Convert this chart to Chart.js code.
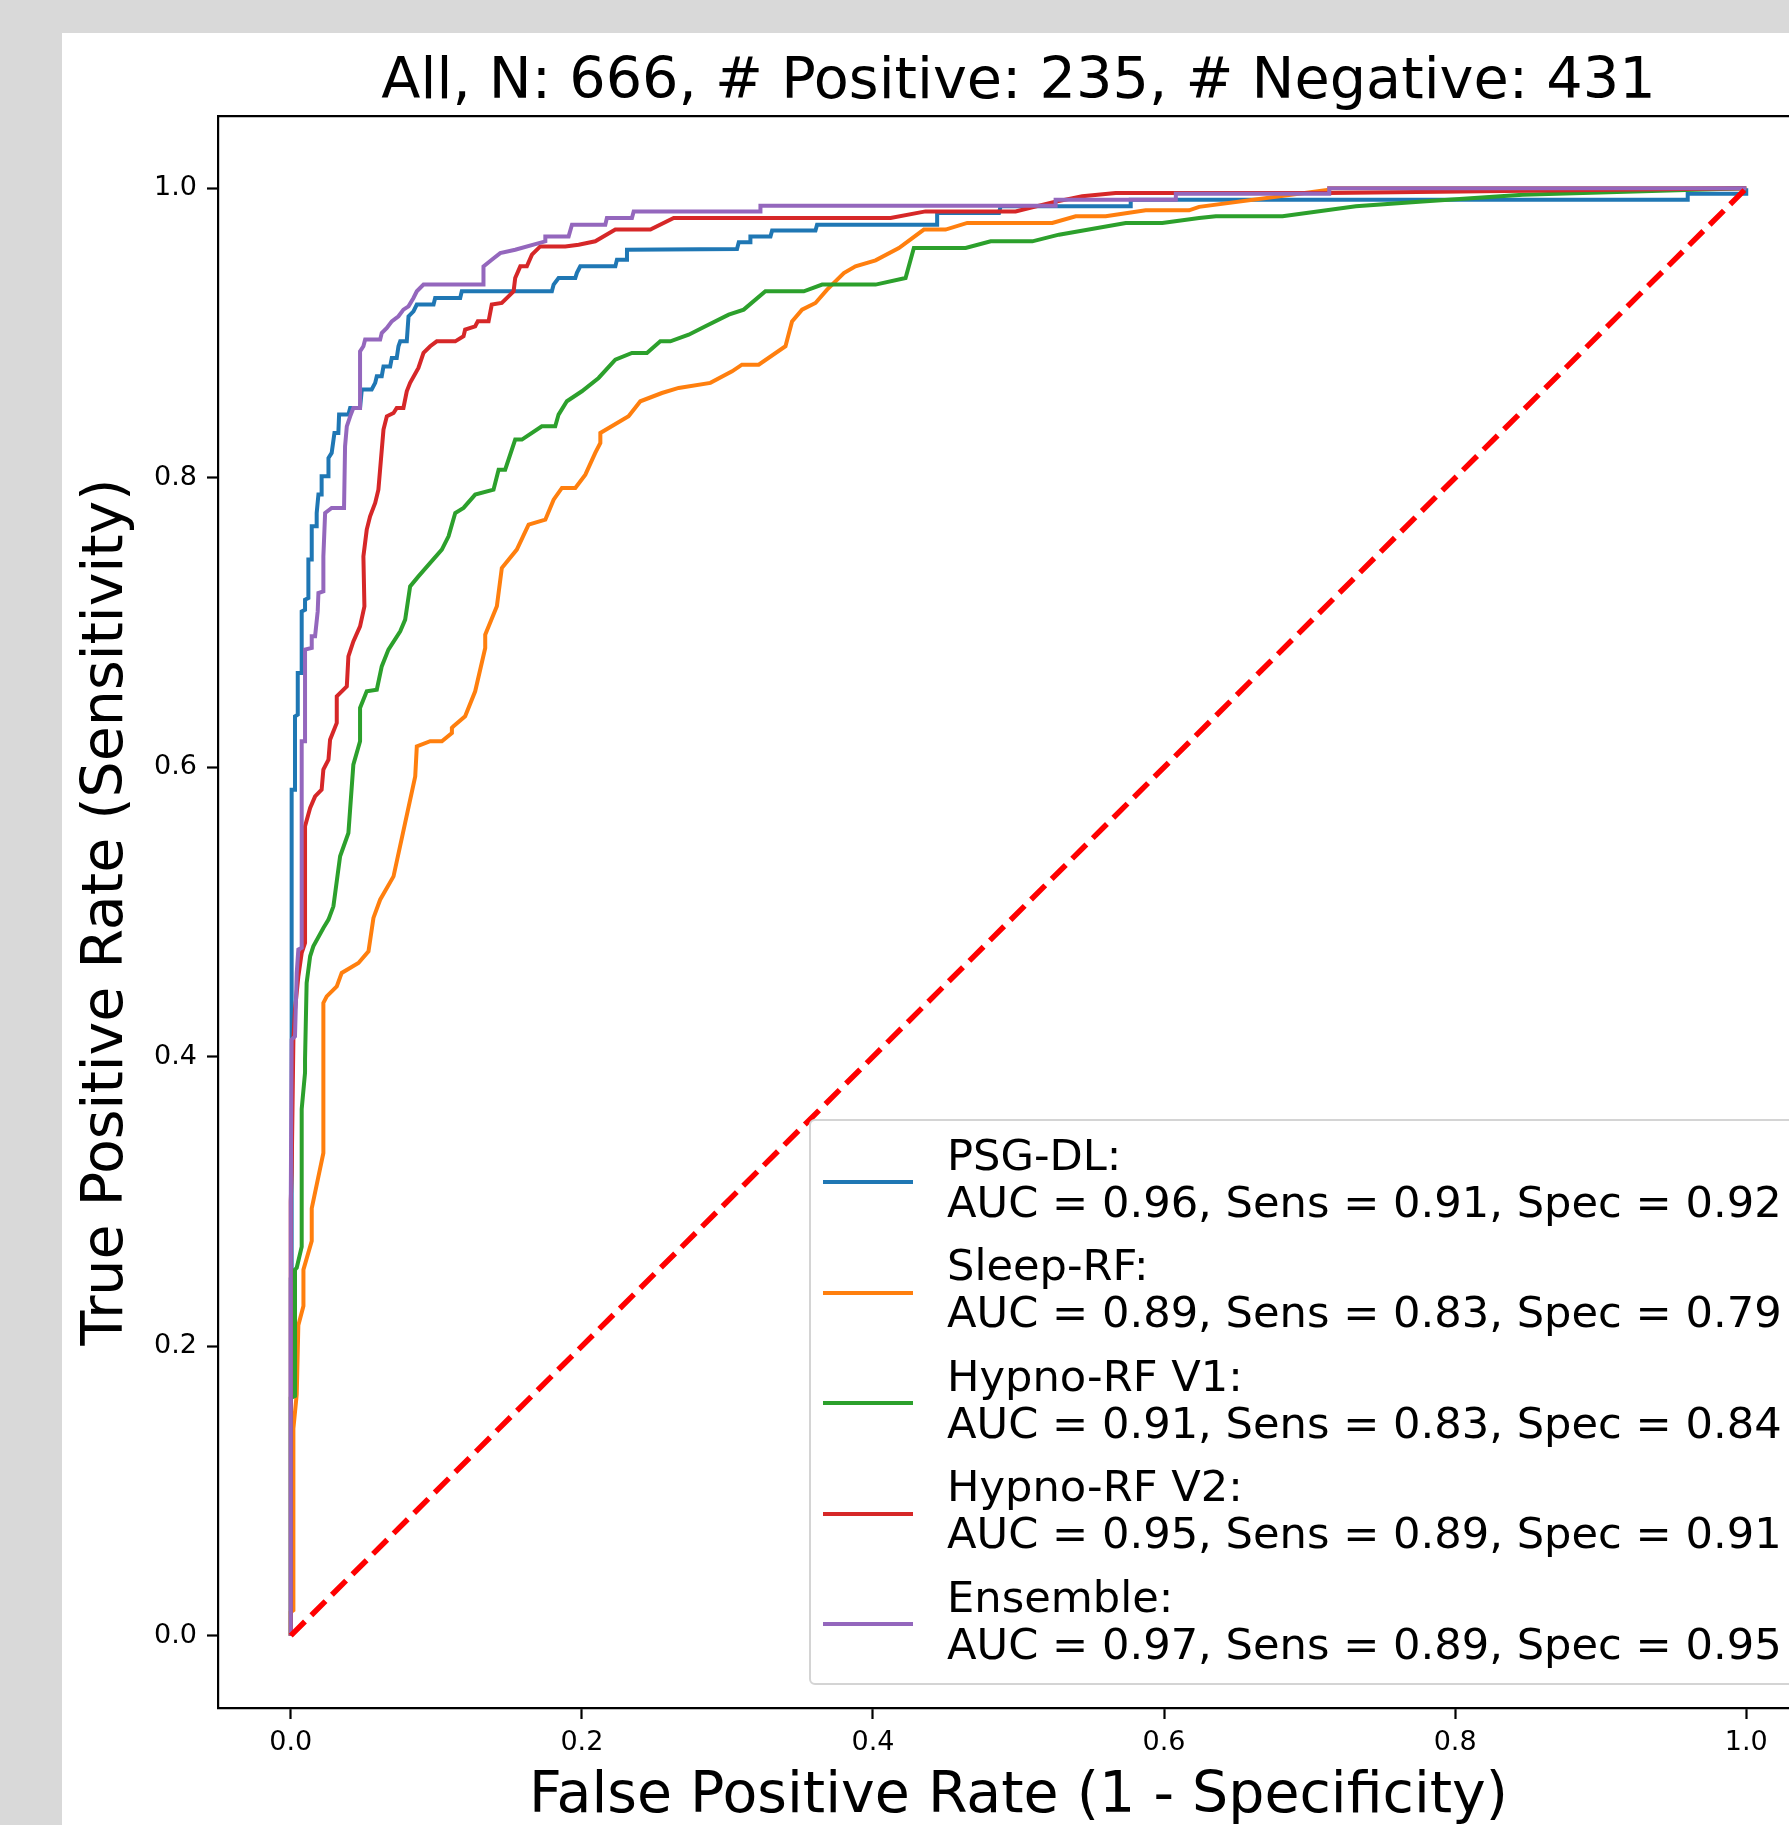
<!DOCTYPE html>
<html>
<head>
<meta charset="utf-8">
<title>ROC curves</title>
<script src="https://cdn.jsdelivr.net/npm/chart.js@4.4.1/dist/chart.umd.min.js"></script>
<style>
  html, body { margin: 0; padding: 0; overflow: hidden; background: #d9d9d9; width: 1789px; height: 1825px; }
  #panel { position: absolute; left: 62px; top: 33px; width: 1900px; height: 1900px; background: #fff; }
  #roc { position: absolute; left: 0; top: 0; }
  #legend {
    position: absolute; left: 747px; top: 1086px; width: 1100px; height: 562px;
    border: 2px solid #d4d4d4; border-radius: 6px; background: rgba(255,255,255,0.8);
    font-family: "DejaVu Sans", sans-serif; font-size: 43.2px; line-height: 46.7px; color: #000;
  }
  .lg-line { position: absolute; left: 12px; width: 90px; height: 4px; }
  .lg-text { position: absolute; left: 136px; white-space: pre; }
</style>
</head>
<body>
<div id="panel">
  <canvas id="roc" width="1838" height="1792"></canvas>
  <div id="legend"></div>
</div>
<script>
// ---- data ----
const nTotal = 666, nPos = 235, nNeg = 431;

const seriesNames  = ["PSG-DL", "Sleep-RF", "Hypno-RF V1", "Hypno-RF V2", "Ensemble"];
const seriesColors = ["#1f77b4", "#ff7f0e", "#2ca02c", "#d62728", "#9467bd"];
const aucVals  = [0.96, 0.89, 0.91, 0.95, 0.97];
const sensVals = [0.91, 0.83, 0.83, 0.89, 0.89];
const specVals = [0.92, 0.79, 0.84, 0.91, 0.95];

const tickVals = [0, 0.2, 0.4, 0.6, 0.8, 1.0];

// PSG-DL
const psgFpr = [0, 0, 0.0006, 0.0006, 0.0029, 0.0029, 0.0048, 0.0048, 0.0075, 0.0075, 0.0098, 0.0098, 0.0121, 0.0121,
  0.0144, 0.0144, 0.0178, 0.0178, 0.0190, 0.0212, 0.0212, 0.0259, 0.0259, 0.0281, 0.0300, 0.0327, 0.0332, 0.0396,
  0.0408, 0.0476, 0.0488, 0.0556, 0.0580, 0.0591, 0.0625, 0.0637, 0.0683, 0.0694, 0.0728, 0.0740, 0.0752, 0.0797,
  0.0809, 0.0843, 0.0866, 0.0981, 0.0992, 0.1164, 0.1175, 0.1794, 0.1806, 0.1840, 0.1955, 0.1966, 0.1989, 0.2230,
  0.2241, 0.2310, 0.2310, 0.3066, 0.3078, 0.3158, 0.3158, 0.3296, 0.3307, 0.3605, 0.3616, 0.4441, 0.4441, 0.4866,
  0.4877, 0.5771, 0.5771, 0.9598, 0.9598, 1.0, 1.0];
const psgTpr = [0, 0.246, 0.246, 0.5845, 0.5845, 0.6352, 0.6364, 0.6652, 0.6652, 0.7077, 0.7089, 0.7158, 0.7170, 0.7435,
  0.7435, 0.7665, 0.7665, 0.7757, 0.7884, 0.7884, 0.8010, 0.8010, 0.8137, 0.8172, 0.8310, 0.8310, 0.8437, 0.8437,
  0.8483, 0.8483, 0.8610, 0.8610, 0.8656, 0.8702, 0.8702, 0.8770, 0.8770, 0.8828, 0.8828, 0.8909, 0.8943, 0.8943,
  0.9116, 0.9150, 0.9197, 0.9197, 0.9243, 0.9243, 0.9289, 0.9289, 0.9335, 0.9381, 0.9381, 0.9416, 0.9461, 0.9461,
  0.9507, 0.9507, 0.9576, 0.9581, 0.9627, 0.9627, 0.9668, 0.9668, 0.9708, 0.9708, 0.9749, 0.9749, 0.9830, 0.9830,
  0.9876, 0.9876, 0.9922, 0.9922, 0.9963, 0.9963, 1.0];

// Sleep-RF
const sleepFpr = [0, 0, 0.0018, 0.0018, 0.0041, 0.0052, 0.0087, 0.0087, 0.0144, 0.0144, 0.0224, 0.0224, 0.0247, 0.0316,
  0.0350, 0.0465, 0.0534, 0.0568, 0.0614, 0.0706, 0.0855, 0.0866, 0.0958, 0.1038, 0.1107, 0.1107, 0.1118, 0.1198,
  0.1267, 0.1336, 0.1336, 0.1416, 0.1450, 0.1553, 0.1634, 0.1749, 0.1806, 0.1863, 0.1955, 0.2024, 0.2092, 0.2127,
  0.2127, 0.2321, 0.2402, 0.2550, 0.2665, 0.2883, 0.3032, 0.3100, 0.3215, 0.3399, 0.3444, 0.3513, 0.3605, 0.3685,
  0.3800, 0.3880, 0.4018, 0.4178, 0.4350, 0.4499, 0.4648, 0.5232, 0.5393, 0.5599, 0.5874, 0.6172, 0.6241, 0.7135,
  0.7135, 1.0];
const sleepTpr = [0, 0.0162, 0.0175, 0.1431, 0.1669, 0.2145, 0.2277, 0.2529, 0.2727, 0.2952, 0.3335, 0.4372, 0.4417, 0.4486,
  0.4579, 0.4648, 0.4728, 0.4959, 0.5085, 0.5246, 0.5937, 0.6145, 0.6180, 0.6180, 0.6237, 0.6272, 0.6283, 0.6352,
  0.6525, 0.6824, 0.6916, 0.7112, 0.7377, 0.7504, 0.7676, 0.7711, 0.7849, 0.7930, 0.7930, 0.8022, 0.8172, 0.8241,
  0.8310, 0.8425, 0.8529, 0.8586, 0.8621, 0.8656, 0.8736, 0.8782, 0.8782, 0.8909, 0.9081, 0.9162, 0.9208, 0.9300,
  0.9415, 0.9461, 0.9503, 0.9588, 0.9715, 0.9715, 0.9761, 0.9761, 0.9807, 0.9807, 0.9848, 0.9848, 0.9872, 0.9990,
  1.0, 1.0];

// Hypno-RF V1
const hv1Fpr = [0, 0, 0.0029, 0.0029, 0.0041, 0.0075, 0.0075, 0.0098, 0.0098, 0.0109, 0.0133, 0.0155, 0.0224, 0.0259,
  0.0293, 0.0339, 0.0396, 0.0430, 0.0476, 0.0476, 0.0522, 0.0591, 0.0625, 0.0671, 0.0752, 0.0786, 0.0820, 0.0877,
  0.0958, 0.1038, 0.1084, 0.1130, 0.1187, 0.1267, 0.1393, 0.1428, 0.1473, 0.1542, 0.1588, 0.1725, 0.1817, 0.1840,
  0.1897, 0.2000, 0.2115, 0.2230, 0.2344, 0.2447, 0.2539, 0.2608, 0.2734, 0.2849, 0.3009, 0.3112, 0.3261, 0.3525,
  0.3651, 0.4018, 0.4224, 0.4281, 0.4637, 0.4809, 0.5095, 0.5278, 0.5737, 0.5988, 0.6241, 0.6356, 0.6814, 0.7318,
  0.7776, 0.8464, 1.0];
const hv1Tpr = [0, 0.1642, 0.1656, 0.2529, 0.2542, 0.2687, 0.3639, 0.3890, 0.3980, 0.4510, 0.4694, 0.4763, 0.4890, 0.4947,
  0.5039, 0.5385, 0.5546, 0.6018, 0.6180, 0.6410, 0.6525, 0.6536, 0.6697, 0.6813, 0.6939, 0.7020, 0.7250, 0.7319,
  0.7412, 0.7504, 0.7596, 0.7757, 0.7792, 0.7884, 0.7918, 0.8056, 0.8056, 0.8264, 0.8264, 0.8356, 0.8356, 0.8437,
  0.8529, 0.8598, 0.8690, 0.8816, 0.8863, 0.8863, 0.8943, 0.8943, 0.8989, 0.9047, 0.9127, 0.9162, 0.9289, 0.9289,
  0.9335, 0.9335, 0.9381, 0.9588, 0.9588, 0.9634, 0.9634, 0.9680, 0.9761, 0.9761, 0.9795, 0.9807, 0.9807, 0.9876,
  0.9910, 0.9956, 1.0];

// Hypno-RF V2
const hv2Fpr = [0, 0, 0.0006, 0.0018, 0.0029, 0.0052, 0.0075, 0.0098, 0.0098, 0.0133, 0.0167, 0.0212, 0.0224, 0.0259,
  0.0270, 0.0316, 0.0316, 0.0385, 0.0396, 0.0430, 0.0476, 0.0506, 0.0499, 0.0522, 0.0545, 0.0580, 0.0602, 0.0637,
  0.0660, 0.0706, 0.0728, 0.0774, 0.0797, 0.0820, 0.0877, 0.0912, 0.0958, 0.1003, 0.1130, 0.1187, 0.1198, 0.1267,
  0.1285, 0.1359, 0.1381, 0.1450, 0.1496, 0.1531, 0.1542, 0.1577, 0.1622, 0.1657, 0.1714, 0.1886, 0.1978, 0.2092,
  0.2230, 0.2471, 0.2631, 0.4121, 0.4361, 0.4980, 0.5232, 0.5438, 0.5668, 0.7135, 1.0];
const hv2Tpr = [0, 0.30, 0.32, 0.4118, 0.4325, 0.4555, 0.4717, 0.4786, 0.5592, 0.5719, 0.5799, 0.5845, 0.5984, 0.6053,
  0.6191, 0.6306, 0.6490, 0.6559, 0.6767, 0.6870, 0.6974, 0.7112, 0.7457, 0.7642, 0.7734, 0.7826, 0.7918, 0.8333,
  0.8425, 0.8448, 0.8483, 0.8483, 0.8598, 0.8656, 0.8759, 0.8863, 0.8909, 0.8943, 0.8943, 0.8978, 0.9024, 0.9047,
  0.9081, 0.9081, 0.9197, 0.9208, 0.9254, 0.9289, 0.9381, 0.9461, 0.9461, 0.9542, 0.9599, 0.9599, 0.9611, 0.9634,
  0.9715, 0.9715, 0.9795, 0.9795, 0.9841, 0.9841, 0.9903, 0.9945, 0.9968, 0.9968, 1.0];

// Ensemble
const ensFpr = [0, 0, 0.0006, 0.0029, 0.0041, 0.0052, 0.0075, 0.0075, 0.0098, 0.0098, 0.0144, 0.0144, 0.0167, 0.0185,
  0.0190, 0.0224, 0.0224, 0.0236, 0.0281, 0.0366, 0.0373, 0.0385, 0.0408, 0.0430, 0.0476, 0.0476, 0.0499, 0.0511,
  0.0614, 0.0625, 0.0660, 0.0694, 0.0740, 0.0774, 0.0809, 0.0843, 0.0866, 0.0912, 0.1324, 0.1324, 0.1381, 0.1439,
  0.1542, 0.1749, 0.1749, 0.1909, 0.1932, 0.2161, 0.2172, 0.2344, 0.2356, 0.3227, 0.3227, 0.5255, 0.5255, 0.6081,
  0.6081, 0.7135, 0.7135, 1.0];
const ensTpr = [0, 0.30, 0.4118, 0.4141, 0.4579, 0.4740, 0.4752, 0.6180, 0.6180, 0.6813, 0.6824, 0.6905, 0.6905, 0.7077,
  0.7204, 0.7216, 0.7457, 0.7757, 0.7792, 0.7792, 0.8218, 0.8356, 0.8425, 0.8483, 0.8483, 0.8874, 0.8909, 0.8955,
  0.8955, 0.9001, 0.9035, 0.9081, 0.9116, 0.9162, 0.9185, 0.9243, 0.9289, 0.9335, 0.9335, 0.9461, 0.9507, 0.9553,
  0.9576, 0.9634, 0.9668, 0.9668, 0.9749, 0.9749, 0.9795, 0.9795, 0.9841, 0.9841, 0.9880, 0.9880, 0.9922, 0.9922,
  0.9963, 0.9963, 1.0, 1.0];

// chance line
const chanceFpr = [0, 1];
const chanceTpr = [0, 1];

const allFpr = [psgFpr, sleepFpr, hv1Fpr, hv2Fpr, ensFpr];
const allTpr = [psgTpr, sleepTpr, hv1Tpr, hv2Tpr, ensTpr];

// ---- helpers ----
function toPoints(xs, ys){
  return xs.map((x, i) => ({ x: x, y: ys[i] }));
}

const fontFamily = "'DejaVu Sans', sans-serif";
const tickFont = { family: fontFamily, size: 27 };

// datasets: later curves sit on top (like matplotlib), dashed line on top of all
const datasets = seriesNames.map((name, i) => ({
  label: name,
  data: toPoints(allFpr[i], allTpr[i]),
  borderColor: seriesColors[i],
  borderWidth: 4,
  pointRadius: 0,
  showLine: true,
  tension: 0,
  fill: false,
  order: seriesNames.length - i
}));
datasets.push({
  label: "chance",
  data: toPoints(chanceFpr, chanceTpr),
  borderColor: "#ff0000",
  borderWidth: 5.5,
  borderDash: [20, 9],
  borderCapStyle: "butt",
  pointRadius: 0,
  showLine: true,
  fill: false,
  order: 0
});

function fixedTicks(scale){
  scale.ticks = tickVals.map(v => ({ value: v }));
}

const axisLine = { display: true, color: "#000", width: 2.2 };
const tickMarks = { drawOnChartArea: false, drawTicks: true, tickLength: 11, tickWidth: 2.2, tickColor: "#000", color: "#000" };

const chart = new Chart(document.getElementById("roc"), {
  type: "scatter",
  data: { datasets },
  options: {
    responsive: false,
    animation: false,
    devicePixelRatio: 1,
    layout: { padding: { left: 0, top: 0, right: 81, bottom: 0 } },
    plugins: {
      legend: { display: false },
      tooltip: { enabled: false },
      title: {
        display: true,
        fullSize: false,
        text: `All, N: ${nTotal}, # Positive: ${nPos}, # Negative: ${nNeg}`,
        color: "#000",
        font: { family: fontFamily, size: 57.3, weight: "normal", lineHeight: 1 },
        padding: { top: 21.2, bottom: 4.5 }
      }
    },
    scales: {
      x: {
        type: "linear", position: "bottom", min: -0.05, max: 1.05,
        afterBuildTicks: fixedTicks,
        afterFit: s => { s.height = 117; },
        ticks: { font: tickFont, color: "#000", padding: 7.5, maxRotation: 0, callback: v => v.toFixed(1) },
        grid: tickMarks,
        border: axisLine,
        title: { display: true, text: "False Positive Rate (1 - Specificity)", color: "#000",
                 font: { family: fontFamily, size: 57, lineHeight: 0.95 }, padding: { top: 0, bottom: 1 } }
      },
      x2: {
        type: "linear", position: "top", axis: "x", min: -0.05, max: 1.05,
        afterFit: s => { s.height = 0; },
        ticks: { display: false },
        grid: { display: false, drawTicks: false },
        border: axisLine
      },
      y: {
        type: "linear", position: "left", min: -0.05, max: 1.05,
        afterBuildTicks: fixedTicks,
        afterFit: s => { s.width = 156; },
        ticks: { font: tickFont, color: "#000", padding: 10, callback: v => v.toFixed(1) },
        grid: tickMarks,
        border: axisLine,
        title: { display: true, text: "True Positive Rate (Sensitivity)", color: "#000",
                 font: { family: fontFamily, size: 57, lineHeight: 1 }, padding: { top: 16.5, bottom: 0 } }
      }
    }
  }
});

// ---- legend (matplotlib style, lower right) ----
const legendEl = document.getElementById("legend");
seriesNames.forEach((name, i) => {
  const line = document.createElement("div");
  line.className = "lg-line";
  line.style.top = (59 + i * 110.5) + "px";
  line.style.background = seriesColors[i];
  legendEl.appendChild(line);

  const txt = document.createElement("div");
  txt.className = "lg-text";
  txt.style.top = (10.8 + i * 110.5) + "px";
  txt.textContent = `${name}:\nAUC = ${aucVals[i].toFixed(2)}, Sens = ${sensVals[i].toFixed(2)}, Spec = ${specVals[i].toFixed(2)}`;
  legendEl.appendChild(txt);
});
</script>
</body>
</html>
